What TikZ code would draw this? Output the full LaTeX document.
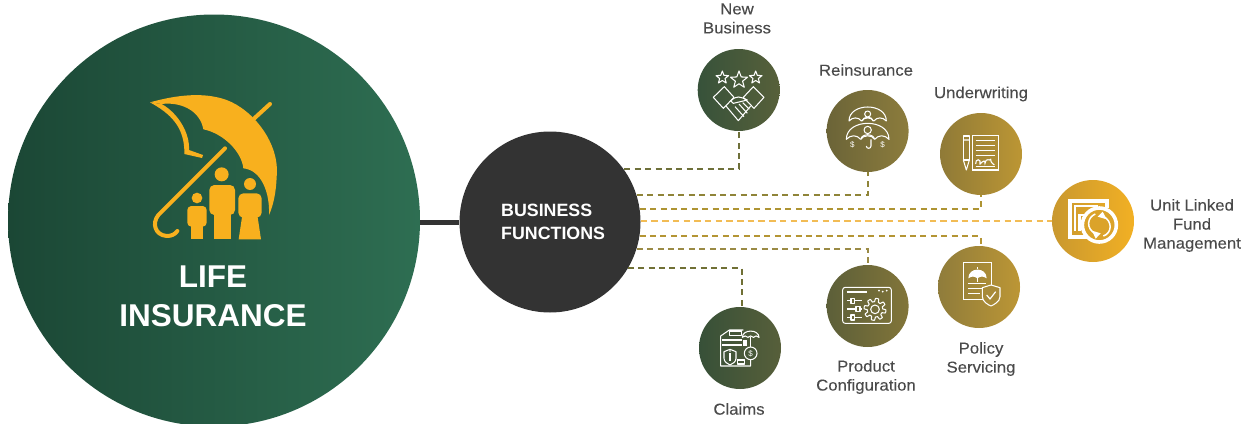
\documentclass[tikz,border=0pt]{standalone}
\usepackage{fontspec}
\setmainfont{Liberation Sans}
\newfontfamily\medfont[FakeBold=0.15,FakeStretch=1.06]{Liberation Sans}
\definecolor{gold}{HTML}{F8B01E}
\definecolor{labelc}{HTML}{4A4A4A}
\definecolor{dark}{HTML}{333333}
\definecolor{lifeL}{HTML}{1B4735}\definecolor{lifeR}{HTML}{2E6E52}
\definecolor{nbL}{HTML}{37523A}\definecolor{nbR}{HTML}{57603A}
\definecolor{reL}{HTML}{6B6438}\definecolor{reR}{HTML}{8C7C3C}
\definecolor{unL}{HTML}{8F7A37}\definecolor{unR}{HTML}{BC9634}
\definecolor{ulL}{HTML}{C9982F}\definecolor{ulR}{HTML}{F2B024}
\definecolor{poL}{HTML}{8F7C3B}\definecolor{poR}{HTML}{BC9635}
\definecolor{prL}{HTML}{5C5F39}\definecolor{prR}{HTML}{827539}
\definecolor{clL}{HTML}{375038}\definecolor{clR}{HTML}{575F3A}
\definecolor{cnb}{HTML}{6E703A}\definecolor{cre}{HTML}{8F8438}
\definecolor{cun}{HTML}{AE9433}\definecolor{cul}{HTML}{F2BC55}
\definecolor{cpo}{HTML}{B49534}\definecolor{cpr}{HTML}{9A8A45}
\definecolor{ccl}{HTML}{707035}
\newcommand{\fivestar}[3]{%
  \draw[ico] ({#1+#3*cos(90)},{#2-#3*sin(90)}) -- ({#1+.42*#3*cos(126)},{#2-.42*#3*sin(126)})
  -- ({#1+#3*cos(162)},{#2-#3*sin(162)}) -- ({#1+.42*#3*cos(198)},{#2-.42*#3*sin(198)})
  -- ({#1+#3*cos(234)},{#2-#3*sin(234)}) -- ({#1+.42*#3*cos(270)},{#2-.42*#3*sin(270)})
  -- ({#1+#3*cos(306)},{#2-#3*sin(306)}) -- ({#1+.42*#3*cos(342)},{#2-.42*#3*sin(342)})
  -- ({#1+#3*cos(18)},{#2-#3*sin(18)}) -- ({#1+.42*#3*cos(54)},{#2-.42*#3*sin(54)}) -- cycle;}
\newcommand{\dome}[3]{%
  \draw[ico] ({#1-#3},#2) .. controls ({#1-#3},{#2-1.0*#3}) and ({#1+#3},{#2-1.0*#3}) .. ({#1+#3},#2)
   .. controls ({#1+.8*#3},{#2-.22*#3}) and ({#1+.5*#3},{#2-.22*#3}) .. ({#1+.33*#3},#2)
   .. controls ({#1+.2*#3},{#2-.22*#3}) and ({#1-.2*#3},{#2-.22*#3}) .. ({#1-.33*#3},#2)
   .. controls ({#1-.5*#3},{#2-.22*#3}) and ({#1-.8*#3},{#2-.22*#3}) .. ({#1-#3},#2) -- cycle;}
\tikzset{
  x=1pt,y=-1pt,
  ico/.style={draw=white,line width=1.05pt,line join=round,fill=none},
  icot/.style={draw=white,line width=1.6pt,line join=miter,fill=none},
  icof/.style={fill=white,draw=none},
  gld/.style={fill=gold,draw=none},
  gldl/.style={draw=gold,fill=none,line cap=round,line join=round},
  orb/.style 2 args={circle,minimum size=82pt,inner sep=0pt,draw=none,left color=#1,right color=#2},
  lab/.style={text=labelc,font=\medfont\fontsize{15.8}{19}\selectfont,align=center,inner sep=0pt},
  conn/.style={line width=1.9pt,dash pattern=on 6pt off 4.4pt},
  zoomed/.style 2 args={shift={(#1,#2)},x=.33333pt,y=-.33333pt},
  dollar/.style={text=white,font=\fontsize{8}{8}\selectfont,inner sep=0pt},
}
\begin{document}
\begin{tikzpicture}
\useasboundingbox (0,0) rectangle (1255,423);
\node[circle,minimum size=412pt,inner sep=0pt,left color=lifeL,right color=lifeR] (life) at (214,220.5) {};
\node[circle,minimum size=181pt,inner sep=0pt,fill=dark] (biz) at (550,222) {};
\node[orb={nbL}{nbR}] (nb) at (738.7,90) {};
\node[orb={reL}{reR}] (re) at (867.6,131) {};
\node[orb={unL}{unR}] (un) at (981,154) {};
\node[orb={ulL}{ulR}] (ul) at (1093,221) {};
\node[orb={poL}{poR}] (po) at (979,287) {};
\node[orb={prL}{prR}] (pr) at (867.6,306) {};
\node[orb={clL}{clR}] (cl) at (740,348) {};
\draw[dark,line width=5pt] (life.east |- biz.west) -- (biz.west);
\draw[conn,draw=cnb] ([yshift=.6pt]biz.35) -| (nb.south);
\draw[conn,draw=cre] ([yshift=.54pt]biz.17) -| (re.south);
\draw[conn,draw=cun] ([yshift=.4pt]biz.8) -| (un.south);
\draw[draw=cul,line width=1.2pt,dash pattern=on 6.5pt off 4.2pt] (biz.east |- ul.west) -- (ul.west);
\draw[conn,draw=cpo] ([yshift=.16pt]biz.-9) -| (un.south |- po.north);
\draw[conn,draw=cpr] ([yshift=-.54pt]biz.-17) -| (pr.north);
\draw[conn,draw=ccl] ([yshift=.6pt]biz.-31) -| ([xshift=1.7pt]cl.north);
% main icon
\begin{scope}[zoomed={120}{80}]
\fill[gld] (90,67) .. controls (170,45) and (250,35) .. (320,60) .. controls (400,90) and (480,190) .. (470,290)
  .. controls (468,340) and (460,375) .. (447,405) .. controls (450,340) and (425,270) .. (370,265)
  .. controls (365,215) and (310,160) .. (250,148) .. controls (240,90) and (180,65) .. (125,72) -- cycle;
\fill[gld] (90,67) .. controls (150,100) and (195,140) .. (193,222) -- (246,234) -- (249,225) -- (207,210)
  .. controls (210,160) and (175,100) .. (125,72) -- cycle;
\draw[gldl,line width=4pt] (315,205) -- (115,405) .. controls (95,430) and (105,465) .. (140,468)
  .. controls (155,468) and (165,463) .. (172,453);
\draw[gldl,line width=4pt] (403,115) -- (450,72);
\fill[gld] (305,283) circle (21);
\fill[gld,rounded corners=5pt] (268,405) -- (268,315) -- (345,315) -- (345,405) -- cycle;
\fill[gld] (282,400) rectangle (332,478);
\fill[gld] (231,354) circle (16);
\fill[gld,rounded corners=4pt] (202,440) -- (202,378) -- (260,378) -- (260,440) -- cycle;
\fill[gld] (212,435) rectangle (250,478);
\fill[gld] (390,312) circle (18);
\fill[gld,rounded corners=5pt] (355,413) -- (355,340) -- (425,340) -- (425,413) -- cycle;
\fill[gld] (367,405) -- (412,405) -- (423,478) -- (356,478) -- cycle;
\end{scope}
% New Business icon
\begin{scope}[zoomed={690}{40}]
\fivestar{97}{113}{20}\fivestar{147}{120}{27}\fivestar{197}{113}{20}
\draw[ico] (103,140) -- (70,172) -- (100,205) -- (132,172) -- cycle;
\draw[ico] (190,140) -- (222,172) -- (192,205) -- (160,172) -- cycle;
\draw[ico] (108,198) -- (145,242) -- (182,198);
\draw[ico] (122,183) .. controls (140,165) and (150,170) .. (172,180) -- (130,190) -- (122,183);
\draw[ico] (135,200) -- (162,230) (147,192) -- (172,220) (158,188) -- (178,208);
\end{scope}
% Reinsurance icon
\begin{scope}[zoomed={690}{40}]
\dome{533}{243}{56}\dome{533}{298}{64}
\draw[ico] (533,222) circle (9) (517,243) .. controls (517,228) and (549,228) .. (549,243);
\draw[ico] (533,270) circle (11) (513,298) .. controls (513,280) and (553,280) .. (553,298);
\draw[ico] (543,298) -- (543,318) arc (0:180:7);
\node[dollar] at (487,313) {\$};
\node[dollar] at (578,313) {\$};
\end{scope}
% Underwriting and Unit Linked icons
\begin{scope}[zoomed={930}{100}]
\draw[ico] (100,108) rectangle (118,180);
\draw[ico] (100,120) -- (118,120) (100,180) -- (109,210) -- (118,180);
\draw[icot] (127,106) rectangle (205,210);
\draw[ico] (137,122) -- (195,122) (137,137) -- (195,137) (137,152) -- (195,152) (137,167) -- (195,167) (137,200) -- (195,200);
\draw[icot,line width=1.1pt] (137,192) .. controls (135,175) and (155,175) .. (150,192) .. controls (145,200) and (165,170) .. (165,190)
  .. controls (170,170) and (178,185) .. (182,178) .. controls (182,190) and (190,190) .. (193,195);
\draw[white,line width=4pt] (532,324) -- (532,302) -- (420,302) -- (420,410) -- (470,410);
\draw[white,line width=2.4pt] (505,318) -- (435,318) -- (435,392) (448,392) -- (448,345) -- (480,345);
\draw[white,line width=3.6pt,fill=ulL!55!ulR] (508,375) circle (51);
\draw[white,line width=1.5pt] (519,348) .. controls (550,365) and (545,400) .. (520,408);
\draw[white,line width=1.5pt] (497,402) .. controls (466,385) and (472,352) .. (496,342);
\fill[icof] (518,335) -- (503,350) -- (530,358) -- cycle;
\fill[icof] (497,416) -- (512,400) -- (486,392) -- cycle;
\end{scope}
% Policy Servicing icon
\begin{scope}[zoomed={690}{250}]
\draw[icot] (878,148) -- (820,148) -- (820,38) -- (905,38) -- (905,105);
\fill[icof] (835,85) .. controls (835,50) and (890,50) .. (890,85) .. controls (880,78) and (872,78) .. (862,85) .. controls (852,78) and (845,78) .. (835,85) -- cycle;
\draw[ico] (862,52) -- (862,58) (862,85) -- (862,97);
\draw[ico] (835,100) -- (888,100) (835,115) -- (875,115) (835,130) -- (870,130);
\draw[ico,fill=poL!45!poR] (903,105) -- (930,113) -- (930,140) .. controls (930,155) and (910,165) .. (903,168)
  .. controls (895,165) and (877,155) .. (877,140) -- (877,113) -- cycle;
\draw[ico,line width=1.2pt] (890,135) -- (900,147) -- (917,125);
\end{scope}
% Product Configuration icon
\begin{scope}[zoomed={690}{250}]
\draw[ico,rounded corners=2.5pt,line width=1pt] (458,112) rectangle (604,220);
\draw[white,line width=1.3pt] (470,126) -- (530,126);
\fill[icof] (567,122) circle (3) (578,125) circle (3) (590,122) circle (3);
\draw[ico] (472,152) -- (515,152) (472,177) -- (515,177) (472,202) -- (515,202);
\draw[ico,fill=prL!55!prR] (483,145) rectangle (493,160) (498,170) rectangle (510,185) (483,195) rectangle (493,210);
\draw[ico] (555,178) circle (13);
\draw[ico] plot[domain=0:360,samples=145] ({555+(28+5*max(-1,min(1,2.5*sin(8*\x))))*cos(\x)},{178+(28+5*max(-1,min(1,2.5*sin(8*\x))))*sin(\x)}) -- cycle;
\end{scope}
% Claims icon
\begin{scope}[zoomed={690}{250}]
\draw[ico] (182,330) -- (182,348) -- (92,348) -- (92,258) -- (118,240) -- (160,240);
\draw[ico] (118,243) rectangle (155,257);
\draw[white,line width=1.6pt] (96,270) -- (155,270) (96,285) -- (155,285);
\fill[icof] (158,270) rectangle (172,288);
\dome{182}{262}{25}
\draw[ico] (182,262) -- (182,291);
\draw[ico,fill=clL!50!clR] (182,310) circle (19);
\node[dollar] at (182,310) {\$};
\draw[ico] (120,298) -- (138,305) -- (138,325) .. controls (138,335) and (128,342) .. (120,345)
  .. controls (112,342) and (102,335) .. (102,325) -- (102,305) -- cycle;
\draw[white,line width=1.3pt] (120,310) -- (120,332);
\fill[icof] (120,303) circle (2.5);
\draw[ico] (142,328) rectangle (163,342);
\fill[icof] (142,328) rectangle (163,333);
\end{scope}
% text
\node[text=white,font=\bfseries\fontsize{31.5}{38.5}\selectfont,align=center,inner sep=0pt] (lifetext) at (213,296.5) {LIFE\\INSURANCE};
\node[text=white,font=\bfseries\fontsize{17.8}{23}\selectfont,align=left,inner sep=0pt,anchor=west] (biztext) at (501,221.5) {BUSINESS\\FUNCTIONS};
\node[lab] (tnb) at (737,18.5) {New\\Business};
\node[lab] (tre) at (866,70) {Reinsurance};
\node[lab] (tun) at (981,94) {Underwriting};
\node[lab] (tul) at (1192,225.5) {Unit Linked\\Fund\\Management};
\node[lab] (tpr) at (866,377) {Product\\Configuration};
\node[lab] (tpo) at (981,359) {Policy\\Servicing};
\node[lab] (tcl) at (739,409) {Claims};
\end{tikzpicture}
\end{document}
